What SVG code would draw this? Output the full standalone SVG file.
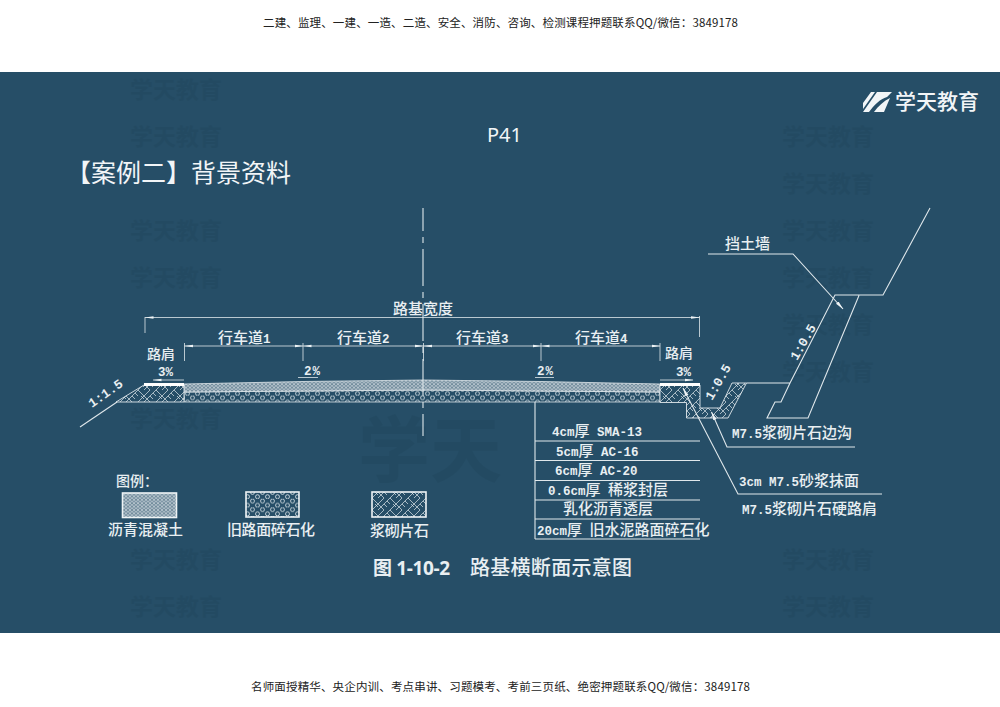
<svg xmlns="http://www.w3.org/2000/svg" width="1000" height="707" viewBox="0 0 1000 707">
<style>
.cn{font-family:"Noto Sans CJK SC","Noto Sans",sans-serif;fill:#e9eff2;font-weight:500;font-size:15px}
.cn tspan{font-family:"Liberation Mono",monospace;font-size:12.5px;font-weight:700}
.ld{font-family:"Liberation Mono","Noto Sans CJK SC",monospace;fill:#e9eff2;font-weight:700;font-size:12.5px}
.ld tspan{font-family:"Noto Sans CJK SC",sans-serif;font-size:15px;font-weight:500}
.hd{font-family:"Noto Sans CJK SC",sans-serif;fill:#222;font-size:11.5px}
.wm{font-family:"Noto Sans CJK SC",sans-serif;fill:#1f4459;font-size:23px;font-weight:700;opacity:.32}
.ln{fill:none;stroke:#dfe7eb;stroke-width:1.1}
.th{fill:none;stroke:#dfe7eb;stroke-width:.8}
.bx{stroke:#eef3f5;stroke-width:1.6}
.br{fill:url(#brick);stroke:#dfe7eb;stroke-width:.9}
.lg{fill:#f2f5f7}
</style>
<defs>
<pattern id="asph" width="4" height="3.4" patternUnits="userSpaceOnUse"><rect width="4" height="3.4" fill="#6f8a9a"/><circle cx="2" cy="1.7" r="1.25" fill="#2f566e" stroke="#f2f5f7" stroke-width=".7"/></pattern>
<pattern id="old" width="10" height="8.6" patternUnits="userSpaceOnUse"><rect width="10" height="8.6" fill="#264e67"/><circle cx="2.5" cy="2.2" r="2" fill="none" stroke="#e4ebee" stroke-width=".8"/><circle cx="7.5" cy="6.5" r="2" fill="none" stroke="#e4ebee" stroke-width=".8"/></pattern>
<pattern id="brick" width="18" height="12" patternUnits="userSpaceOnUse"><rect width="18" height="12" fill="#264e67"/><path d="M0 6L6 0M6 12L18 0M0 12L6 6M6 6L0 0M12 6L18 12M6 0L9 3M12 12L9 9M15 0L18 3" fill="none" stroke="#dfe7eb" stroke-width=".7"/></pattern>
<marker id="tk" markerWidth="9" markerHeight="5" refX="8.5" refY="2.5" orient="auto-start-reverse" markerUnits="userSpaceOnUse"><path d="M0 1.2L9 2.5L0 3.8z" fill="#eef3f5"/></marker>
<marker id="ah" markerWidth="9" markerHeight="5" refX="8.5" refY="2.5" orient="auto" markerUnits="userSpaceOnUse"><path d="M0 .8L9 2.5L0 4.2z" fill="#eef3f5"/></marker>
</defs>
<rect width="1000" height="707" fill="#fff"/>
<text class="hd" x="263" y="27" textLength="475">二建、监理、一建、一造、二造、安全、消防、咨询、检测课程押题联系QQ/微信：3849178</text>
<text class="hd" x="251" y="691" textLength="499">名师面授精华、央企内训、考点串讲、习题模考、考前三页纸、绝密押题联系QQ/微信：3849178</text>
<rect id="panel" y="72" width="1000" height="561" fill="#264e67"/>
<g id="watermarks">
<text class="wm" x="130" y="98">学天教育</text><text class="wm" x="130" y="145">学天教育</text><text class="wm" x="130" y="239">学天教育</text><text class="wm" x="130" y="286">学天教育</text><text class="wm" x="130" y="427">学天教育</text><text class="wm" x="130" y="568">学天教育</text><text class="wm" x="130" y="615">学天教育</text>
<text class="wm" x="782" y="145">学天教育</text><text class="wm" x="782" y="192">学天教育</text><text class="wm" x="782" y="239">学天教育</text><text class="wm" x="782" y="286">学天教育</text><text class="wm" x="782" y="333">学天教育</text><text class="wm" x="782" y="380">学天教育</text><text class="wm" x="782" y="568">学天教育</text><text class="wm" x="782" y="615">学天教育</text>
<text class="wm" x="358" y="476" style="font-size:72px">学天</text>
</g>
<g id="logo">
<path class="lg" d="M863 112L877 92H892L887 97C880 99 874 105 869 112zM874 112C878 106 884 101 890 98L884 112zM863 103L871 92H875L863 109z"/>
<text class="lg" x="895" y="109" font-family="'Noto Sans CJK SC',sans-serif" font-size="21" font-weight="500">学天教育</text>
</g>
<text id="page" x="487" y="142" font-family="'Noto Sans',sans-serif" font-size="20" fill="#f2f5f7">P41</text>
<text id="title" x="66" y="182" font-family="'Noto Sans CJK SC',sans-serif" font-size="25" fill="#f2f5f7">【案例二】背景资料</text>

<g id="pavement">
<path d="M184 392L424 390L660 392V402H184z" fill="url(#old)" stroke="#dfe7eb" stroke-width=".8"/>
<path d="M184 384L303 381.5L424 380L541 381.5L660 384V392L424 390L184 392z" fill="url(#asph)" stroke="#dfe7eb" stroke-width=".8"/>
</g>
<g id="shoulder-left">
<polygon class="br" points="144,385 184,385 184,402 116,402"/>
<rect x="144" y="383" width="40" height="3" fill="#fff"/>
</g>
<g id="shoulder-right">
<polygon class="br" points="660,385 700,385 700,408 720,408 732,383 746.5,383 728,418 686.5,418 686.5,402.5 660,402.5"/>
<rect x="660" y="383" width="40" height="3" fill="#fff"/>
</g>
<g id="retaining-wall">
<path class="ln" d="M746.5 383H790M790 383L835 295H883L930 208M859 295.5L808 418H767L775 402H781L790 383"/>
</g>
<g id="connectors">
<path class="ln" d="M80 427L117 402"/>
<path class="ln" stroke-dasharray="37 6 6 6" stroke-dashoffset="14" d="M423 208V436"/>
<path class="th" d="M145 317V333M699.5 316V337"/>
<path class="th" marker-start="url(#tk)" marker-end="url(#tk)" d="M145 317.5H699.5"/>
<path class="th" d="M184.5 343V361M303 343V361M423.5 343V361M541 343V361M660 343V361"/>
<path class="th" marker-start="url(#tk)" marker-end="url(#tk)" d="M184.5 346H303"/>
<path class="th" marker-start="url(#tk)" marker-end="url(#tk)" d="M303 346H423.5"/>
<path class="th" marker-start="url(#tk)" marker-end="url(#tk)" d="M423.5 346H541"/>
<path class="th" marker-start="url(#tk)" marker-end="url(#tk)" d="M541 346H660"/>
<path class="th" d="M298 377.5H318M535 377.5H554"/>
<path class="th" marker-end="url(#tk)" d="M184 380H153"/>
<path class="th" marker-end="url(#tk)" d="M660 380H693"/>
<path class="ln" marker-end="url(#ah)" d="M708 254H793L843 309"/>
<path class="ln" marker-end="url(#ah)" d="M855 447H727L711.5 412"/>
<path class="ln" marker-end="url(#ah)" d="M882 494H738L683 388"/>
<path class="ln" d="M535 402V539M535 441H700M535 460.5H700M535 480.5H700M535 500H700M535 519H700M535 539H700"/>
</g>
<g id="labels">
<text class="cn" x="393" y="314">路基宽度</text>
<text class="cn" x="218" y="343">行车道<tspan>1</tspan></text>
<text class="cn" x="337" y="343">行车道<tspan>2</tspan></text>
<text class="cn" x="456" y="343">行车道<tspan>3</tspan></text>
<text class="cn" x="575" y="343">行车道<tspan>4</tspan></text>
<text class="cn" x="147" y="359" style="font-size:14px">路肩</text>
<text class="cn" x="665" y="358" style="font-size:14px">路肩</text>
<text class="ld" x="158" y="376" font-size="12" textLength="15">3%</text>
<text class="ld" x="304" y="375" font-size="12" textLength="16">2%</text>
<text class="ld" x="537" y="375" font-size="12" textLength="16">2%</text>
<text class="ld" x="676" y="376" font-size="12" textLength="15">3%</text>
<text class="ld" transform="translate(92 408) rotate(-35)" style="font-size:13px">1:1.5</text>
<text class="ld" transform="translate(712 401) rotate(-60)" style="font-size:13px">1:0.5</text>
<text class="ld" transform="translate(797 361) rotate(-60)" style="font-size:13px">1:0.5</text>
<text class="cn" x="725" y="249">挡土墙</text>
<text class="ld" x="732" y="438">M7.5<tspan>浆砌片石边沟</tspan></text>
<text class="ld" x="739" y="486">3cm M7.5<tspan>砂浆抹面</tspan></text>
<text class="ld" x="742" y="514">M7.5<tspan>浆砌片石硬路肩</tspan></text>
<text class="ld" x="552" y="436">4cm<tspan>厚</tspan> SMA-13</text>
<text class="ld" x="556" y="456">5cm<tspan>厚</tspan> AC-16</text>
<text class="ld" x="555" y="475">6cm<tspan>厚</tspan> AC-20</text>
<text class="ld" x="548" y="494.5">0.6cm<tspan>厚</tspan> <tspan>稀浆封层</tspan></text>
<text class="ld" x="563" y="513.5"><tspan>乳化沥青透层</tspan></text>
<text class="ld" x="537" y="535">20cm<tspan>厚</tspan> <tspan>旧水泥路面碎石化</tspan></text>
</g>
<g id="legend">
<text class="cn" x="116" y="486" style="font-size:14px">图例：</text>
<rect class="bx" x="122.5" y="493" width="54" height="24.5" fill="url(#asph)"/>
<rect class="bx" x="246" y="492" width="53" height="25" fill="url(#old)"/>
<rect class="bx" x="372" y="492" width="54" height="25" fill="url(#brick)"/>
<text class="cn" x="108" y="535">沥青混凝土</text>
<text class="cn" x="227" y="535" textLength="88">旧路面碎石化</text>
<text class="cn" x="370" y="536" textLength="59">浆砌片石</text>
</g>
<g id="caption">
<text x="373" y="575" font-family="'Open Sans','Noto Sans CJK SC',sans-serif" font-size="19" font-weight="700" fill="#e9eff2" textLength="77">图 1-10-2</text>
<text x="470" y="575" font-family="'Noto Sans CJK SC',sans-serif" font-size="20" font-weight="500" fill="#e9eff2" textLength="162">路基横断面示意图</text>
</g>
</svg>
